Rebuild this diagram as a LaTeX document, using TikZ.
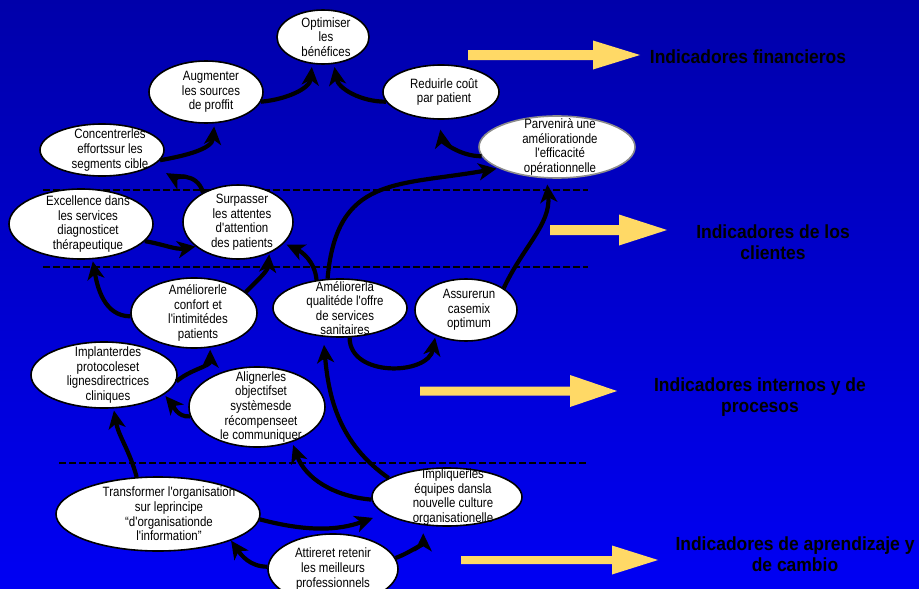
\documentclass[tikz,border=0pt]{standalone}
\usepackage{fontspec}
\setmainfont{Liberation Sans}
\newfontfamily\bubfont[FakeStretch=0.85]{Liberation Sans}
\newfontfamily\indfont[FakeStretch=0.92]{Liberation Sans}
\usetikzlibrary{shapes.geometric,arrows.meta}
\definecolor{bgtop}{RGB}{0,0,170}
\definecolor{bgbot}{RGB}{0,0,244}
\definecolor{arrowyel}{RGB}{255,217,102}
\definecolor{rimgray}{RGB}{140,140,140}
\tikzset{
  bub/.style={ellipse, draw=black, line width=1.6pt, fill=white, inner sep=0pt},
  txt/.style={font=\bubfont\fontsize{13.5}{14.6}\selectfont, align=center, inner sep=0pt},
  flow/.style={-{Stealth[length=18pt, width=17pt, inset=5pt]}, line width=4.2pt, black},
  divline/.style={black, line width=1.3pt, dash pattern=on 7pt off 3pt},
  ind/.style={font=\indfont\bfseries\fontsize{19}{21.5}\selectfont, align=center, text=black},
}

\begin{document}
\begin{tikzpicture}[x=1pt, y=1pt]

% ---------------------------------------------------------------- background
\useasboundingbox (0,0) rectangle (919,-589);
\shade[top color=bgtop, bottom color=bgbot] (0,0) rectangle (919,-589);

% ---------------------------------------------------------------- perspective separators
\draw[divline] (43,-190) -- (588,-190);
\draw[divline] (43,-267) -- (588,-267);
\draw[divline] (59,-463) -- (587,-463);

% ---------------------------------------------------------------- financial
\node[bub, minimum width=92pt, minimum height=54pt,
      label={[txt, xshift=3pt]center:{Optimiser\\les\\bénéfices}}] (opt) at (323,-37) {};
\node[bub, minimum width=114pt, minimum height=62pt,
      label={[txt, xshift=5pt]center:{Augmenter\\les sources\\de proffit}}] (aug) at (206,-92) {};
\node[bub, minimum width=116pt, minimum height=54pt,
      label={[txt, xshift=3pt]center:{Reduirle coût\\par patient}}] (red) at (441,-92) {};
\node[bub, minimum width=124pt, minimum height=52pt,
      label={[txt, xshift=8pt]center:{Concentrerles\\effortssur les\\segments cible}}] (conc) at (102,-150) {};
\node[bub, draw=rimgray, minimum width=156pt, minimum height=62pt,
      label={[txt, xshift=3pt]center:{Parvenirà une\\améliorationde\\l'efficacité\\opérationnelle}}] (parv) at (557,-147) {};

% ---------------------------------------------------------------- clients
\node[bub, minimum width=144pt, minimum height=70pt,
      label={[txt, xshift=7pt]center:{Excellence dans\\les services\\diagnosticet\\thérapeutique}}] (exc) at (81,-224) {};
\node[bub, minimum width=110pt, minimum height=74pt,
      label={[txt, xshift=4pt]center:{Surpasser\\les attentes\\d'attention\\des patients}}] (surp) at (238,-222) {};

% ---------------------------------------------------------------- internal processes
\node[bub, minimum width=126pt, minimum height=70pt,
      label={[txt, xshift=4pt]center:{Améliorerle\\confort et\\l'intimitédes\\patients}}] (conf) at (194,-313) {};
\node[bub, minimum width=134pt, minimum height=58pt,
      label={[txt, xshift=5pt]center:{Améliorerla\\qualitéde l'offre\\de services\\sanitaires}}] (qual) at (340,-308) {};
\node[bub, minimum width=102pt, minimum height=62pt,
      label={[txt, xshift=3pt]center:{Assurerun\\casemix\\optimum}}] (ass) at (466,-310) {};
\node[bub, minimum width=146pt, minimum height=66pt,
      label={[txt, xshift=4pt]center:{Implanterdes\\protocoleset\\lignesdirectrices\\cliniques}}] (impl) at (104,-375) {};
\node[bub, minimum width=136pt, minimum height=80pt,
      label={[txt, xshift=4pt]center:{Alignerles\\objectifset\\systèmesde\\récompenseet\\le communiquer}}] (alig) at (257,-407) {};

% ---------------------------------------------------------------- learning and change
\node[bub, minimum width=204pt, minimum height=74pt,
      label={[txt, xshift=11pt]center:{Transformer l'organisation\\sur leprincipe\\“d'organisationde\\l'information”}}] (trans) at (158,-514) {};
\node[bub, minimum width=150pt, minimum height=58pt,
      label={[txt, xshift=6pt]center:{Impliquerles\\équipes dansla\\nouvelle culture\\organisationelle}}] (impq) at (447,-497) {};
\node[bub, minimum width=130pt, minimum height=70pt,
      label={[txt]center:{Attireret retenir\\les meilleurs\\professionnels}}] (attr) at (333,-569) {};

% ---------------------------------------------------------------- cause and effect links
\draw[flow, shorten >=3pt] (aug.-10) to[out=5,in=-95] (opt.-112);
\draw[flow, shorten >=3pt] (red.190) to[out=180,in=-80] (opt.-68);
\draw[flow, shorten >=3pt] (conc.-10) to[out=10,in=-95] (aug.-75);
\draw[flow, shorten >=10pt] (parv.187) to[out=180,in=-80] (red.-95);
\draw[flow, shorten >=15pt] (surp.140) to[out=105,in=-30] (conc.-17);
\draw[flow] (exc.-15) to[out=-10,in=190] (surp.210);
\draw[flow, shorten >=2pt] (conf.183) to[out=180,in=-80] (exc.-72);
\draw[flow, shorten >=1pt] (conf.22) to[out=45,in=-95] (surp.-45);
\draw[flow, shorten >=3pt] (qual.130) to[out=95,in=-25] (surp.-25);
\draw[flow, shorten >=2pt] (qual.113) to[out=85,in=190,looseness=1.3] (parv.200);
\draw[flow, shorten >=2pt] (qual.-72) to[out=-90,in=-100,looseness=1.2] (ass.-140);
\draw[flow, shorten >=6pt] (ass.30) to[out=65,in=-85] (parv.-108);
\draw[flow, shorten >=2pt] (impl.-5) to[out=40,in=-90] (conf.-65);
\draw[flow, shorten >=2pt] (alig.188) to[out=185,in=-50] (impl.-18);
\draw[flow, shorten >=2pt] (trans.120) to[out=105,in=-80] (impl.-74);
\draw[flow, shorten >=3pt] (impq.182) to[out=175,in=-70] (alig.-45);
\draw[flow, shorten >=8pt] (impq.162) to[out=145,in=-85] (qual.-120);
\draw[flow, shorten >=12pt] (trans.-3) to[out=-15,in=200] (impq.195);
\draw[flow] (attr.178) to[out=180,in=-55] (trans.-20);
\draw[flow, shorten >=8pt] (attr.10) to[out=20,in=-90] (impq.-130);

% ---------------------------------------------------------------- indicator arrows
% shaft start / head start / tip / centre y / shaft half / head half
\foreach \xa/\xb/\xt/\yc/\sh/\hh in {468/593/640/55/5/14.5, 550/619/667/230/5/15.5,
                                     420/570/617/391/4.5/16, 461/612/658/560/4/14.5} {
  \fill[arrowyel] (\xa,{\sh-\yc}) -- (\xb,{\sh-\yc}) -- (\xb,{\hh-\yc}) -- (\xt,-\yc)
    -- (\xb,{-\hh-\yc}) -- (\xb,{-\sh-\yc}) -- (\xa,{-\sh-\yc}) -- cycle;
}
\node[ind] (indfin) at (748,-57) {Indicadores financieros};
\node[ind] (indcli) at (773,-242) {Indicadores de los\\clientes};
\node[ind] (indint) at (760,-397) {Indicadores internos y de\\procesos};
\node[ind] (indapr) at (795,-554) {Indicadores de aprendizaje y\\de cambio};

\end{tikzpicture}
\end{document}
